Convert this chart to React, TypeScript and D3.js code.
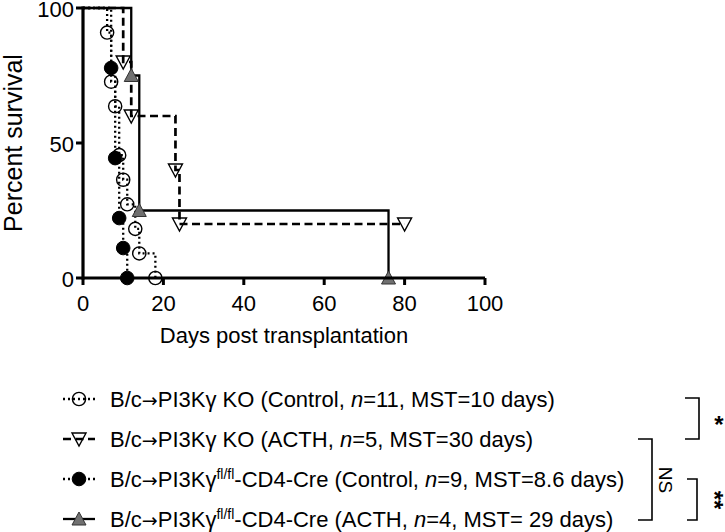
import React from 'react';
import * as d3 from 'd3';

// ---- data ----
const xTicks = [0, 20, 40, 60, 80, 100];
const yTicks = [0, 50, 100];

const koCtrlDays = [0, 6, 7, 8, 9, 10, 11, 13, 14, 18];
const koCtrlSurv = [100, 90.9, 72.7, 63.6, 45.5, 36.4, 27.3, 18.2, 9.1, 0];

const koActhDays = [0, 10, 12, 23, 24, 80];
const koActhSurv = [100, 80, 60, 40, 20, 20];

const flCtrlDays = [0, 7, 8, 9, 10, 11];
const flCtrlSurv = [100, 77.8, 44.4, 22.2, 11.1, 0];

const flActhDays = [0, 12, 14, 76];
const flActhSurv = [100, 75, 25, 0];

const legendGroups = ['PI3Kγ KO', 'PI3Kγ KO', 'PI3Kγ', 'PI3Kγ'];
const legendTreat = ['Control', 'ACTH', 'Control', 'ACTH'];
const legendN = ['11', '5', '9', '4'];
const legendMST = ['10 days', '30 days', '8.6 days', ' 29 days'];

const FONT = '"Liberation Sans", Arial, Helvetica, sans-serif';

type Kind = 'circleOpen' | 'circleFilled' | 'triDown' | 'triUp';

interface Series {
  days: number[];
  surv: number[];
  kind: Kind;
  dash: string;
  width: number;
  sup: boolean;
}

const series: Series[] = [
  { days: koCtrlDays, surv: koCtrlSurv, kind: 'circleOpen', dash: '2,3', width: 2.3, sup: false },
  { days: koActhDays, surv: koActhSurv, kind: 'triDown', dash: '8,4.5', width: 2.7, sup: false },
  { days: flCtrlDays, surv: flCtrlSurv, kind: 'circleFilled', dash: '2,3', width: 2.3, sup: true },
  { days: flActhDays, surv: flActhSurv, kind: 'triUp', dash: '', width: 2.3, sup: true },
];

function Sym({ kind, cx, cy }: { kind: Kind; cx: number; cy: number }) {
  if (kind === 'circleOpen')
    return <circle cx={cx} cy={cy} r={6.6} fill="none" stroke="#000" strokeWidth={1.4} />;
  if (kind === 'circleFilled')
    return <circle cx={cx} cy={cy} r={6.8} fill="#000" stroke="#000" strokeWidth={1} />;
  if (kind === 'triDown')
    return (
      <polygon
        points={`${cx - 7},${cy - 6} ${cx + 7},${cy - 6} ${cx},${cy + 7}`}
        fill="none"
        stroke="#000"
        strokeWidth={1.4}
      />
    );
  return (
    <polygon
      points={`${cx - 7},${cy + 6} ${cx + 7},${cy + 6} ${cx},${cy - 7}`}
      fill="#707070"
      stroke="#333"
      strokeWidth={1}
    />
  );
}

export default function App() {
  const W = 725;
  const H = 532;
  const x = d3.scaleLinear().domain([0, 100]).range([83, 485]);
  const y = d3.scaleLinear().domain([0, 100]).range([278, 8]);

  const line = d3
    .line<[number, number]>()
    .x((d) => x(d[0]))
    .y((d) => y(d[1]))
    .curve(d3.curveStepAfter);

  const rowY = [399, 439, 479, 519];
  const drawOrder = [0, 1, 2, 3];

  return (
    <svg
      width={W}
      height={H}
      style={{ position: 'absolute', left: 0, top: 0, background: '#fff' }}
      fontFamily={FONT}
    >
      <rect width={W} height={H} fill="#fff" />

      {/* curves */}
      {drawOrder.map((i) => {
        const s = series[i];
        const pts = s.days.map((d, k) => [d, s.surv[k]] as [number, number]);
        return (
          <path
            key={i}
            d={line(pts) || ''}
            fill="none"
            stroke="#000"
            strokeWidth={s.width}
            strokeDasharray={s.dash || undefined}
          />
        );
      })}
      {drawOrder.map((i) => {
        const s = series[i];
        return (
          <g key={'m' + i}>
            {s.days.slice(1).map((d, k) => (
              <Sym key={k} kind={s.kind} cx={x(d)} cy={y(s.surv[k + 1])} />
            ))}
          </g>
        );
      })}

      {/* axes */}
      <line x1={x(0)} x2={x(100)} y1={y(0)} y2={y(0)} stroke="#000" strokeWidth={3.2} />
      <line x1={x(0)} x2={x(0)} y1={y(0) + 1.6} y2={y(100) - 1.6} stroke="#000" strokeWidth={3.2} />
      {xTicks.map((t) => (
        <g key={'xt' + t}>
          <line x1={x(t)} x2={x(t)} y1={y(0)} y2={y(0) + 7} stroke="#000" strokeWidth={3} />
          <text x={x(t)} y={311} textAnchor="middle" fontSize={22} fill="#000">
            {t}
          </text>
        </g>
      ))}
      {yTicks.map((t) => (
        <g key={'yt' + t}>
          <line x1={x(0) - 7} x2={x(0)} y1={y(t)} y2={y(t)} stroke="#000" strokeWidth={3} />
          <text x={74} y={y(t) + 8.5} textAnchor="end" fontSize={22} fill="#000">
            {t}
          </text>
        </g>
      ))}
      <text x={284} y={343} textAnchor="middle" fontSize={22} fill="#000">
        Days post transplantation
      </text>
      <text
        transform={`translate(22,${(y(0) + y(100)) / 2}) rotate(-90)`}
        textAnchor="middle"
        fontSize={25}
        fill="#000"
      >
        Percent survival
      </text>

      {/* legend */}
      {series.map((s, i) => {
        const cy = rowY[i];
        return (
          <g key={'lg' + i}>
            <line
              x1={63}
              x2={95}
              y1={cy}
              y2={cy}
              stroke="#000"
              strokeWidth={s.width}
              strokeDasharray={s.dash || undefined}
            />
            <Sym kind={s.kind} cx={79} cy={cy} />
            <text x={110} y={cy + 8} fontSize={22} fill="#000">
              <tspan>B/c</tspan>
              <tspan fontFamily='"DejaVu Sans", sans-serif' fontSize={19}>
                →
              </tspan>
              {s.sup ? (
                <>
                  <tspan>{legendGroups[i]}</tspan>
                  <tspan dy={-8} fontSize={14}>
                    fl/fl
                  </tspan>
                  <tspan dy={8}>{`-CD4-Cre (${legendTreat[i]}, `}</tspan>
                </>
              ) : (
                <tspan>{`${legendGroups[i]} (${legendTreat[i]}, `}</tspan>
              )}
              <tspan fontStyle="italic">n</tspan>
              <tspan>{`=${legendN[i]}, MST=${legendMST[i]})`}</tspan>
            </text>
          </g>
        );
      })}

      {/* significance brackets */}
      <path d="M685,398 H699 V439 H685" fill="none" stroke="#000" strokeWidth={1.6} />
      <text x={719} y={433} textAnchor="middle" fontSize={24} fontWeight="bold" fill="#000">
        *
      </text>
      <path d="M638,439 H652 V520 H638" fill="none" stroke="#000" strokeWidth={1.6} />
      <text
        transform="translate(665,480) rotate(90)"
        textAnchor="middle"
        dominantBaseline="central"
        fontSize={19}
        fill="#000"
      >
        NS
      </text>
      <path d="M687,479 H697 V520 H687" fill="none" stroke="#000" strokeWidth={1.6} />
      <text
        transform="translate(706,500) rotate(90)"
        textAnchor="middle"
        fontSize={24}
        fontWeight="bold"
        fill="#000"
      >
        **
      </text>
    </svg>
  );
}
